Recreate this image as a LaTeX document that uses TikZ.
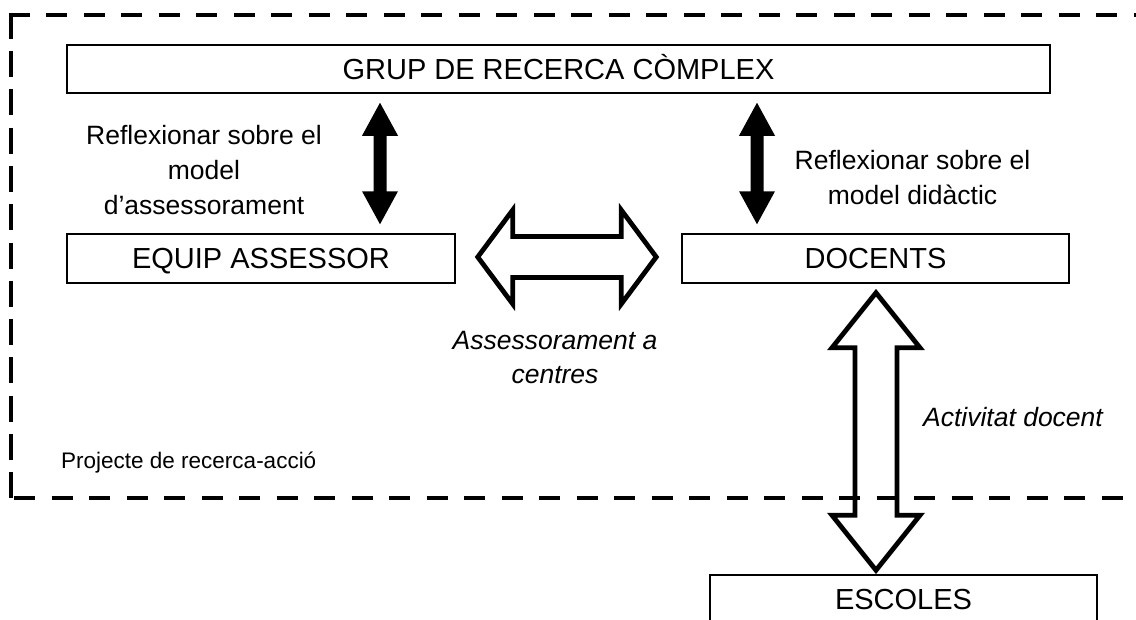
\documentclass[tikz,border=0pt]{standalone}
\usepackage{fontspec}
\setmainfont{Liberation Sans}
\usetikzlibrary{calc}

\begin{document}
\begin{tikzpicture}[
    x=1pt, y=-1pt,
    box/.style={draw=black, line width=1.5pt, inner sep=0pt, text height=20.8pt, text depth=0pt, font=\fontsize{29}{34}\selectfont},
    note/.style={inner sep=0pt, align=center, font=\fontsize{26.5}{35}\selectfont},
    frame/.style={line width=4.5pt, dash pattern=on 21pt off 16.5pt},
    fatarrow/.style n args={3}{to path={
        -- ($($(\tikztostart)!#1!(\tikztotarget)$)!#2!90:(\tikztotarget)$)
        -- ($($(\tikztostart)!#1!(\tikztotarget)$)!#3!90:(\tikztotarget)$)
        -- ($($(\tikztotarget)!#1!(\tikztostart)$)!#3!90:(\tikztotarget)$)
        -- ($($(\tikztotarget)!#1!(\tikztostart)$)!#2!90:(\tikztotarget)$)
        -- (\tikztotarget)
        -- ($($(\tikztotarget)!#1!(\tikztostart)$)!#2!-90:(\tikztotarget)$)
        -- ($($(\tikztotarget)!#1!(\tikztostart)$)!#3!-90:(\tikztotarget)$)
        -- ($($(\tikztostart)!#1!(\tikztotarget)$)!#3!-90:(\tikztotarget)$)
        -- ($($(\tikztostart)!#1!(\tikztotarget)$)!#2!-90:(\tikztotarget)$)
        -- cycle}},
    hollowarrow/.style={draw=black, line width=4.8pt, line join=miter},
    ]

\useasboundingbox (0,0) rectangle (1136,619);
\clip (0,0) rectangle (1136,619);

% Boxes
\node[box, minimum width=983pt, minimum height=48pt] (grup) at (558.5,69) {GRUP DE RECERCA CÒMPLEX};
\node[box, minimum width=388pt, minimum height=49pt] (equip) at (261,258.5) {EQUIP ASSESSOR};
\node[box, minimum width=387pt, minimum height=49pt] (docents) at (875.5,258.5) {DOCENTS};
\node[box, minimum width=387pt, minimum height=49pt] (escoles) at (903.5,599.5) {ESCOLES};

% Project frame
\draw[frame] (8.75,15) -- (1160,15);
\draw[frame, dash pattern=on 26pt off 12.3pt] (11,12.75) -- (11,498);
\draw[frame] (14,498) -- (1160,498);

% Arrow ends
\coordinate (l1) at ($(grup.south -| 380,0)+(0,9)$);
\coordinate (l2) at ($(equip.north -| 380,0)+(0,-9)$);
\coordinate (r1) at ($(grup.south -| 757,0)+(0,9)$);
\coordinate (r2) at ($(docents.north -| 757,0)+(0,-9)$);
\coordinate (h1) at ($(equip.east)+(22,-1.5)$);
\coordinate (h2) at ($(docents.west)+(-25,-1.5)$);
\coordinate (v1) at ($(docents.south)+(0.5,9)$);
\coordinate (v2) at ($(docents.south |- escoles.north)+(0.5,-4)$);

% Arrows
\fill[fatarrow={33pt}{18pt}{6.5pt}] (l1) to (l2);
\fill[fatarrow={33pt}{18pt}{6.5pt}] (r1) to (r2);
\draw[hollowarrow, fatarrow={35pt}{47pt}{20.5pt}] (h1) to (h2);
\draw[hollowarrow, fatarrow={55pt}{44pt}{21pt}] (v1) to (v2);

% Labels
\node[note] (reflex1) at (204,170.5) {Reflexionar sobre el\\model\\d’assessorament};
\node[note] (reflex2) at (912.5,178) {Reflexionar sobre el\\model didàctic};
\node[note, font=\itshape\fontsize{26.5}{34}\selectfont] (assess) at (555,357.5) {Assessorament a\\centres};
\node[note, font=\itshape\fontsize{26.5}{34}\selectfont, anchor=base] (activ) at (1013,426) {Activitat docent};
\node[inner sep=0pt, anchor=base west, font=\fontsize{22.5}{27}\selectfont] (proj) at (61,468) {Projecte de recerca-acció};

\end{tikzpicture}
\end{document}
